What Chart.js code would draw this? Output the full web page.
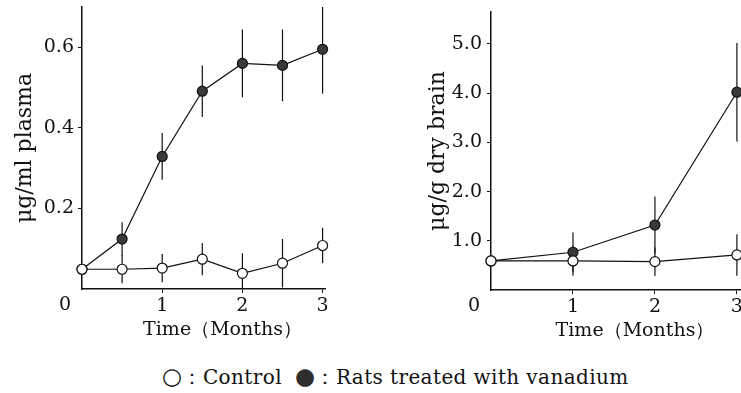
<!DOCTYPE html>
<html>
<head>
<meta charset="utf-8">
<script src="https://cdn.jsdelivr.net/npm/chart.js@4.4.0/dist/chart.umd.min.js"></script>
<style>
    html, body { margin: 0; padding: 0; background: #fff; overflow: hidden; width: 741px; height: 393px; }
    #plasma { position: absolute; left: 0; top: 0; }
    #brain { position: absolute; left: 370px; top: 0; }
    .leg { position: absolute; top: 364px; font: 20px 'DejaVu Serif'; color: #111; white-space: nowrap; letter-spacing: 0.4px; }
    .mk { font-size: 23px; line-height: 20px; }
</style>
</head>
<body>
<canvas id="plasma" width="345" height="345"></canvas>
<canvas id="brain" width="400" height="346"></canvas>
<div class="leg" style="left:162px"><span class="mk">○</span>：Control</div>
<div class="leg" style="left:295px"><span class="mk" style="color:#2e2e2e">●</span>：Rats treated with vanadium</div>
<script>
// valores (meses / concentracion)
const plasmaMonths = [0, 0.5, 1, 1.5, 2, 2.5, 3];
const plasmaControl = [0.049, 0.049, 0.052, 0.074, 0.039, 0.064, 0.108];
const plasmaControlErr = [0, 0.035, 0.035, 0.04, 0.05, 0.06, 0.044];
const plasmaTreated = [0.049, 0.124, 0.329, 0.491, 0.560, 0.555, 0.595];
const plasmaTreatedErr = [0, 0.042, 0.058, 0.064, 0.084, 0.089, 0.11];

const brainMonths = [0, 1, 2, 3];
const brainControl = [0.59, 0.59, 0.576, 0.712];
const brainControlErr = [0, 0.3, 0.29, 0.42];
const brainTreated = [0.59, 0.767, 1.32, 4.02];
const brainTreatedErr = [0, 0.4, 0.58, 1.0];

const monthTicks = [1, 2, 3];
const plasmaTicks = [0.2, 0.4, 0.6];
const brainTicks = [1, 2, 3, 4, 5];

const ink = '#111';
Chart.defaults.font.family = "'DejaVu Serif', serif";
Chart.defaults.color = ink;

// barras de error verticales, debajo de los puntos
const errorBars = {
    id: 'errorBars',
    beforeDatasetsDraw(chart) {
        const { ctx, chartArea, scales: { x, y } } = chart;
        ctx.save();
        ctx.beginPath();
        ctx.rect(chartArea.left - 10, chartArea.top, chartArea.width + 20, chartArea.height);
        ctx.clip();
        ctx.strokeStyle = ink;
        ctx.lineWidth = 1.2;
        chart.data.datasets.forEach(ds => {
            ds.data.forEach((p, i) => {
                const e = ds.errors[i];
                if (!e) return;
                const px = x.getPixelForValue(p.x);
                ctx.beginPath();
                ctx.moveTo(px, y.getPixelForValue(p.y - e));
                ctx.lineTo(px, y.getPixelForValue(p.y + e));
                ctx.stroke();
            });
        });
        ctx.restore();
    }
};

// el "0" del origen va abajo a la izquierda del eje
const zeroLabel = {
    id: 'zeroLabel',
    afterDraw(chart) {
        const { ctx, scales: { x } } = chart;
        ctx.save();
        ctx.font = "19px 'DejaVu Serif'";
        ctx.fillStyle = ink;
        ctx.textAlign = 'center';
        ctx.textBaseline = 'middle';
        ctx.fillText('0', x.getPixelForValue(0) - 17, x.top + 16);
        ctx.restore();
    }
};

function makeChart(id, months, control, controlErr, treated, treatedErr, cfg) {
    const ctx = document.getElementById(id).getContext('2d');
    return new Chart(ctx, {
        type: 'line',
        data: {
            datasets: [{
                label: 'Control',
                data: months.map((m, i) => ({ x: m, y: control[i] })),
                errors: controlErr,
                borderColor: ink,
                borderWidth: 1.2,
                pointRadius: 5,
                pointBackgroundColor: '#fff',
                pointBorderColor: ink,
                pointBorderWidth: 1.2,
                order: 0,
                clip: false
            }, {
                label: 'Rats treated with vanadium',
                data: months.map((m, i) => ({ x: m, y: treated[i] })),
                errors: treatedErr,
                borderColor: ink,
                borderWidth: 1.2,
                pointRadius: 5,
                pointBackgroundColor: '#3a3a3a',
                pointBorderColor: ink,
                pointBorderWidth: 1.2,
                order: 1,
                clip: false
            }]
        },
        options: {
            responsive: false,
            animation: false,
            layout: { padding: cfg.padding },
            plugins: {
                legend: { display: false },
                tooltip: { enabled: false }
            },
            scales: {
                x: {
                    type: 'linear',
                    min: 0,
                    max: cfg.xMax,
                    afterBuildTicks: s => { s.ticks = monthTicks.map(v => ({ value: v })); },
                    afterFit: s => { s.height = 56; s.paddingLeft = 0; s.paddingRight = 0; },
                    grid: { drawOnChartArea: false, tickLength: 4, color: ink },
                    border: { color: ink, width: 1.5 },
                    ticks: { padding: 2, font: { size: 19 }, maxRotation: 0 },
                    title: {
                        display: true,
                        text: '\u3000\u3000Time（Months）',
                        font: { size: 19 },
                        padding: { top: 0, bottom: 4 }
                    }
                },
                y: {
                    min: 0,
                    max: cfg.yMax,
                    afterBuildTicks: s => { s.ticks = cfg.yTicks.map(v => ({ value: v })); },
                    afterFit: s => { s.width = cfg.yWidth; s.paddingTop = 0; s.paddingBottom = 0; },
                    grid: { drawOnChartArea: false, tickLength: 4, color: ink },
                    border: { color: ink, width: 1.5 },
                    ticks: {
                        padding: cfg.tickPad,
                        font: { size: 19 },
                        callback: v => v.toFixed(1)
                    },
                    title: {
                        display: true,
                        text: cfg.yTitle,
                        font: { size: 22 },
                        padding: { top: 0, bottom: 0 }
                    }
                }
            }
        },
        plugins: [errorBars, zeroLabel]
    });
}

makeChart('plasma', plasmaMonths, plasmaControl, plasmaControlErr, plasmaTreated, plasmaTreatedErr, {
    xMax: 3.03,
    yMax: 0.7,
    yTicks: plasmaTicks,
    yTitle: 'μg/ml plasma',
    yWidth: 70,
    tickPad: 4,
    padding: { left: 12, top: 7, right: 20, bottom: 0 }
});

makeChart('brain', brainMonths, brainControl, brainControlErr, brainTreated, brainTreatedErr, {
    xMax: 3.05,
    yMax: 5.65,
    yTicks: brainTicks,
    yTitle: 'μg/g dry brain',
    yWidth: 66,
    tickPad: 5,
    padding: { left: 55, top: 12, right: 29, bottom: 0 }
});
</script>
</body>
</html>
